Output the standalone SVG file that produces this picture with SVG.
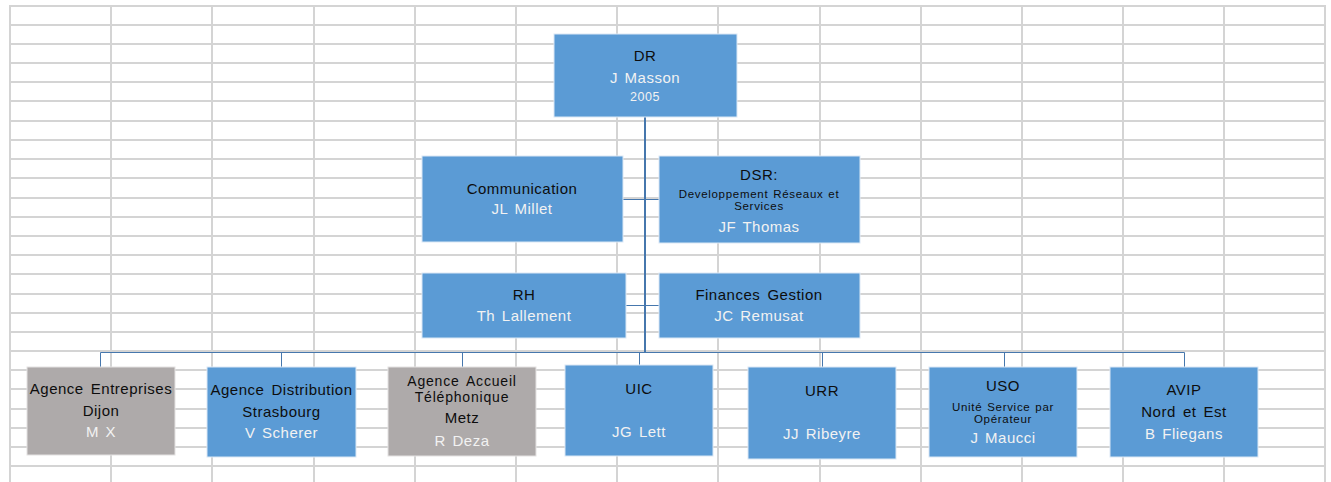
<svg xmlns="http://www.w3.org/2000/svg" width="1331" height="482" viewBox="0 0 1331 482">
<style>
.grid{stroke:#d4d4d4;stroke-width:2;fill:none}
.blue{fill:#5b9bd5;stroke:#dbe8f5;stroke-width:1}
.gray{fill:#aeaaaa;stroke:#e4e2e2;stroke-width:1}
.conn{stroke:#4677ad;fill:none}
text{font-family:"Liberation Sans",Arial,sans-serif;text-anchor:middle}
.t{font-size:15px;fill:#0d0d0d;letter-spacing:0.5px;word-spacing:2.5px}
.tc{font-size:14px;fill:#0d0d0d;letter-spacing:0.8px;word-spacing:2.5px}
.n{font-size:15px;fill:#f2f2f2;letter-spacing:0.5px;word-spacing:2px}
.s{font-size:11.5px;fill:#0d0d0d;letter-spacing:0.7px;word-spacing:1px}
.y{font-size:12.5px;fill:#f2f2f2;letter-spacing:0.5px}
</style>
<rect width="1331" height="482" fill="#ffffff"/>
<path class="grid" d="M10 5V482M111 5V482M212 5V482M314 5V482M415 5V482M516 5V482M617 5V482M718 5V482M820 5V482M921 5V482M1022 5V482M1123 5V482M1224 5V482M1325 5V482
M9 6H1326M9 25H1326M9 44H1326M9 63H1326M9 82H1326M9 101H1326M9 121H1326M9 140H1326M9 159H1326M9 178H1326M9 198H1326M9 217H1326M9 236H1326M9 255H1326M9 274H1326M9 294H1326M9 313H1326M9 332H1326M9 351H1326M9 370H1326M9 389H1326M9 409H1326M9 428H1326M9 447H1326M9 466H1326"/>
<g id="connectors" class="conn">
<path d="M645 117V353" stroke-width="2"/>
<path d="M623 199.5H659M626 305.5H659" stroke-width="1"/>
<path d="M100.5 352.5H1184.5" stroke-width="1"/>
<path d="M100.5 352.5V367M281.5 352.5V367M462.5 352.5V367M639.5 352.5V365M822.5 352.5V367M1004.5 352.5V367M1184.5 352.5V367" stroke-width="1"/>
</g>
<g id="dr">
<rect class="blue" x="554" y="34" width="183" height="83"/>
<text class="t" x="645" y="60.5">DR</text>
<text class="n" x="645" y="82.8">J Masson</text>
<text class="y" x="645" y="101">2005</text>
</g>
<g id="communication">
<rect class="blue" x="422" y="156" width="201" height="86"/>
<text class="t" x="522" y="193.5">Communication</text>
<text class="n" x="522" y="214.3">JL Millet</text>
</g>
<g id="dsr">
<rect class="blue" x="659" y="156" width="201" height="87"/>
<text class="t" x="759" y="179.5">DSR:</text>
<text class="s" x="759" y="197.5">Developpement Réseaux et</text>
<text class="s" x="759" y="210">Services</text>
<text class="n" x="759" y="231.5">JF Thomas</text>
</g>
<g id="rh">
<rect class="blue" x="422" y="273" width="204" height="65"/>
<text class="t" x="524" y="299.5">RH</text>
<text class="n" x="524" y="321">Th Lallement</text>
</g>
<g id="finances">
<rect class="blue" x="659" y="273" width="201" height="65"/>
<text class="t" x="759" y="299.5">Finances Gestion</text>
<text class="n" x="759" y="321">JC Remusat</text>
</g>
<g id="agence-entreprises">
<rect class="gray" x="27" y="367" width="148" height="88"/>
<text class="t" x="101" y="393.5">Agence Entreprises</text>
<text class="t" x="101" y="416.3">Dijon</text>
<text class="n" x="101" y="437">M X</text>
</g>
<g id="agence-distribution">
<rect class="blue" x="207" y="367" width="149" height="90"/>
<text class="t" x="281.5" y="395.3">Agence Distribution</text>
<text class="t" x="281.5" y="416.8">Strasbourg</text>
<text class="n" x="281.5" y="438">V Scherer</text>
</g>
<g id="agence-accueil">
<rect class="gray" x="388" y="367" width="148" height="89"/>
<text class="tc" x="462" y="386.3">Agence Accueil</text>
<text class="tc" x="462" y="401.5">Téléphonique</text>
<text class="t" x="462" y="422.6">Metz</text>
<text class="n" x="462" y="446">R Deza</text>
</g>
<g id="uic">
<rect class="blue" x="565" y="365" width="148" height="91"/>
<text class="t" x="639" y="394.3">UIC</text>
<text class="n" x="639" y="437">JG Lett</text>
</g>
<g id="urr">
<rect class="blue" x="748" y="367" width="148" height="92"/>
<text class="t" x="822" y="396">URR</text>
<text class="n" x="822" y="439.3">JJ Ribeyre</text>
</g>
<g id="uso">
<rect class="blue" x="929" y="367" width="148" height="90"/>
<text class="t" x="1003" y="391">USO</text>
<text class="s" x="1003" y="410.7">Unité Service par</text>
<text class="s" x="1003" y="423.3">Opérateur</text>
<text class="n" x="1003" y="443">J Maucci</text>
</g>
<g id="avip">
<rect class="blue" x="1110" y="367" width="148" height="90"/>
<text class="t" x="1184" y="395.3">AVIP</text>
<text class="t" x="1184" y="417">Nord et Est</text>
<text class="n" x="1184" y="438.6">B Fliegans</text>
</g>
</svg>
